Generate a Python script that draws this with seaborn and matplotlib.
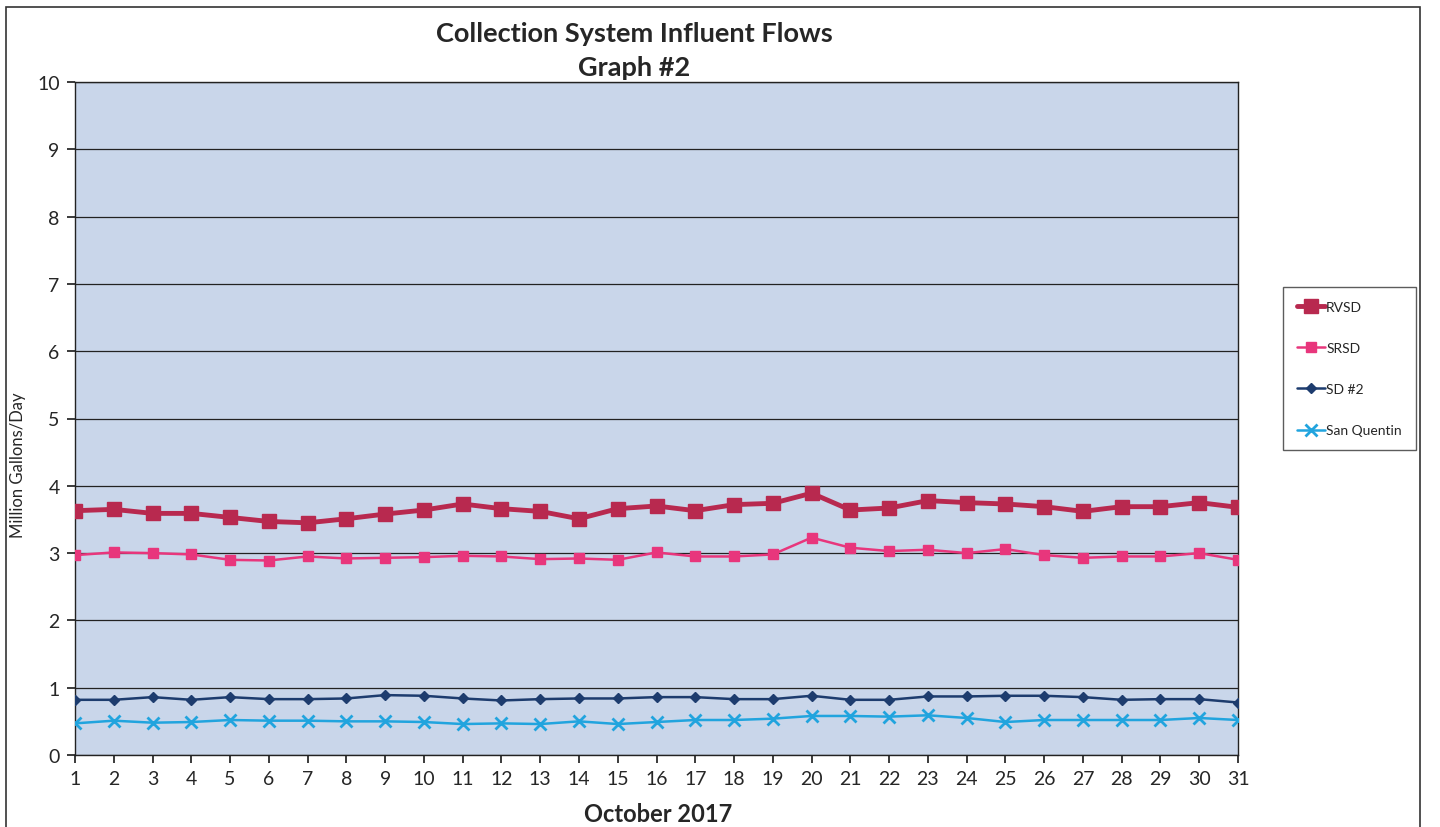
import numpy as np
import pandas as pd
import matplotlib
matplotlib.use("Agg")
import matplotlib.pyplot as plt
import seaborn as sns
from matplotlib.patches import Rectangle

days = list(range(1, 32))
rvsd = [3.63, 3.65, 3.59, 3.59, 3.53, 3.47, 3.45, 3.51, 3.58, 3.64, 3.73, 3.66, 3.62, 3.51, 3.66, 3.70,
        3.63, 3.72, 3.74, 3.89, 3.64, 3.67, 3.78, 3.75, 3.73, 3.69, 3.62, 3.69, 3.69, 3.75, 3.68]
srsd = [2.97, 3.01, 3.00, 2.98, 2.90, 2.89, 2.95, 2.92, 2.93, 2.94, 2.96, 2.95, 2.91, 2.92, 2.90, 3.01,
        2.95, 2.95, 2.98, 3.23, 3.08, 3.03, 3.05, 3.00, 3.06, 2.97, 2.93, 2.95, 2.95, 3.00, 2.90]
sd2 = [0.82, 0.82, 0.86, 0.82, 0.86, 0.83, 0.83, 0.84, 0.89, 0.88, 0.84, 0.81, 0.83, 0.84, 0.84, 0.86,
       0.86, 0.83, 0.83, 0.88, 0.82, 0.82, 0.87, 0.87, 0.88, 0.88, 0.86, 0.82, 0.83, 0.83, 0.78]
sanq = [0.47, 0.51, 0.48, 0.49, 0.52, 0.51, 0.51, 0.50, 0.50, 0.49, 0.46, 0.47, 0.46, 0.50, 0.46, 0.49,
        0.52, 0.52, 0.54, 0.58, 0.58, 0.57, 0.59, 0.55, 0.49, 0.52, 0.52, 0.52, 0.52, 0.55, 0.52]
series_names = ["RVSD", "SRSD", "SD #2", "San Quentin"]
y_ticks = list(range(0, 11))

sns.set_theme(style="white")
plt.rcParams['font.family'] = ['Lato', 'DejaVu Sans']

W, H = 1440, 828
fig = plt.figure(figsize=(14.4, 8.28), dpi=100)
ax = fig.add_axes([75 / W, 1 - 756 / H, (1238 - 75) / W, (756 - 83) / H])
ax.set_facecolor("#c9d6ea")

styles = {
    "RVSD": dict(color="#b8294f", marker="s", markersize=10, linewidth=3.5),
    "SRSD": dict(color="#e8367c", marker="s", markersize=7, linewidth=1.8),
    "SD #2": dict(color="#1d3c6e", marker="D", markersize=5, linewidth=1.8),
    "San Quentin": dict(color="#21a4de", marker="x", markersize=8, linewidth=1.8),
}
data = {"RVSD": rvsd, "SRSD": srsd, "SD #2": sd2, "San Quentin": sanq}
for name in series_names:
    df = pd.DataFrame({"day": days, "value": data[name]})
    st = styles[name]
    sns.lineplot(data=df, x="day", y="value", ax=ax, color=st["color"], marker=st["marker"],
                 markersize=st["markersize"], linewidth=st["linewidth"], markeredgecolor=st["color"],
                 markeredgewidth=2 if st["marker"] == "x" else 1, label=name, zorder=3)

ax.set_xlim(1, 31)
ax.set_ylim(0, 10)
ax.set_xticks(days)
ax.set_xticklabels([str(d) for d in days], fontsize=14)
ax.set_yticks(y_ticks)
ax.set_yticklabels([str(t) for t in y_ticks], fontsize=14)
ax.yaxis.grid(True, color="#222222", linewidth=0.9)
ax.xaxis.grid(False)
for s in ax.spines.values():
    s.set_color("#222222")
    s.set_linewidth(1)
ax.tick_params(axis="both", which="both", length=6, color="#222222", direction="out", pad=5,
               bottom=True, left=True)
ax.set_xlabel("")
ax.set_ylabel("")

fig.text(18 / W, 1 - 465 / H, "Million Gallons/Day", rotation=90, ha="center", va="center", fontsize=12)
fig.text(658 / W, 1 - 815 / H, "October 2017", ha="center", va="center", fontsize=17, fontweight="bold")
fig.text(634 / W, 1 - 34 / H, "Collection System Influent Flows", ha="center", va="center",
         fontsize=19.5, fontweight="bold")
fig.text(634 / W, 1 - 68 / H, "Graph #2", ha="center", va="center", fontsize=19.5, fontweight="bold")

leg = ax.legend(loc="upper left", bbox_to_anchor=(1283 / W, 1 - 288 / H), bbox_transform=fig.transFigure,
                frameon=True, fontsize=10, labelspacing=2.1, handlelength=2.0, borderpad=1.0,
                borderaxespad=0, handletextpad=0.1, fancybox=False, edgecolor="#333333")
leg.get_frame().set_linewidth(1)

fig.patches.append(Rectangle((6 / W, -0.01), (1420 - 6) / W, 1 - 8 / H + 0.01, transform=fig.transFigure,
                             fill=False, edgecolor="#333333", linewidth=1.2))

fig.savefig("out.png", dpi=100, facecolor="white")
